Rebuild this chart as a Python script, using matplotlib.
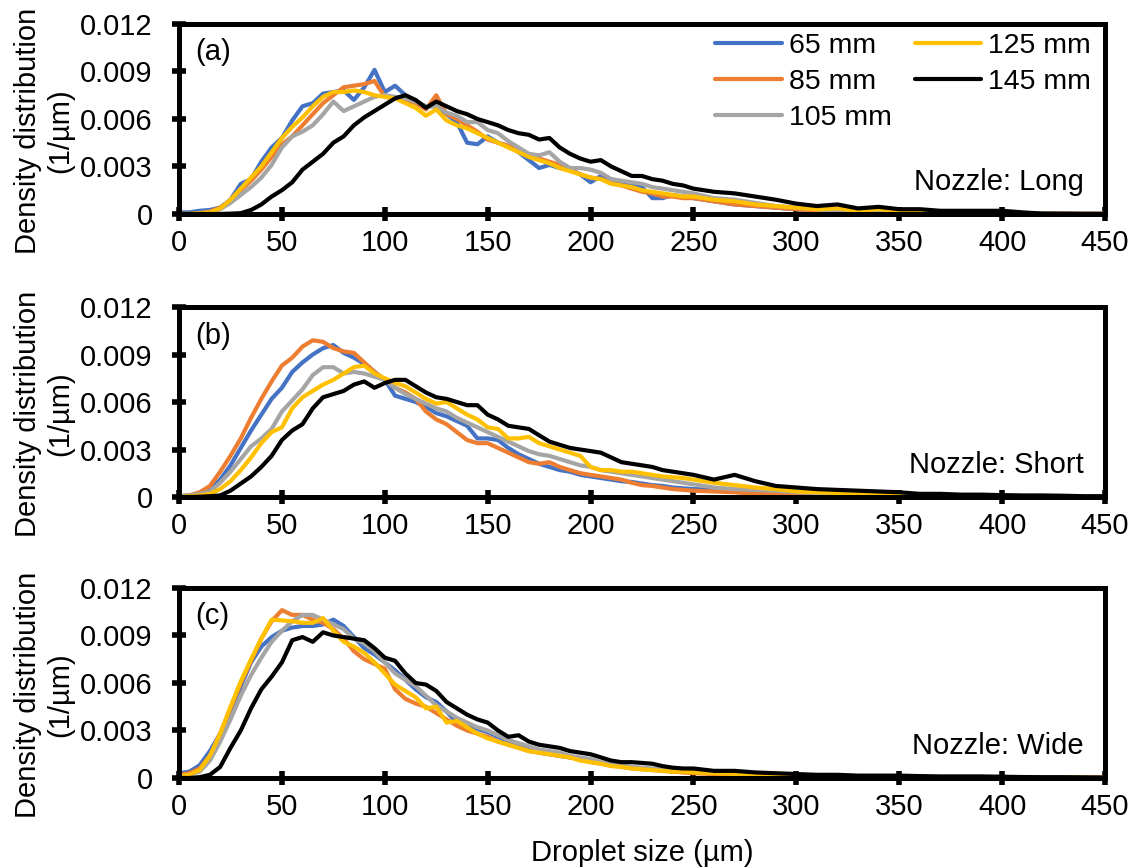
import matplotlib
matplotlib.use("Agg")
import matplotlib.pyplot as plt
import numpy as np

plt.rcParams['font.family'] = ['Liberation Sans', 'DejaVu Sans']

# droplet size grid (um): 5 um steps up to 250, then 10 um steps
size_um = list(range(0, 255, 5)) + list(range(260, 460, 10))

series_labels = ['65 mm', '85 mm', '105 mm', '125 mm', '145 mm']
series_colors = ['#4472C4', '#ED7D31', '#A5A5A5', '#FFC000', '#000000']

yticks = [0, 0.003, 0.006, 0.009, 0.012]
ytick_labels = ['0', '0.003', '0.006', '0.009', '0.012']
xticks = list(range(0, 451, 50))

# density distribution, values in 1e-3 (1/um)
# --- (a) long nozzle ---
long_65 = [0.1, 0.1, 0.2, 0.25, 0.4, 0.9, 1.9, 2.2, 3.3, 4.2,
           4.8, 5.9, 6.8, 7.0, 7.6, 7.7, 7.8, 7.2, 8.0, 9.1,
           7.7, 8.1, 7.5, 7.1, 6.8, 6.8, 6.3, 5.8, 4.5, 4.4,
           4.9, 4.5, 4.3, 3.9, 3.4, 2.9, 3.1, 2.9, 2.8, 2.5,
           2.0, 2.4, 2.2, 1.9, 1.8, 1.7, 1.0, 1.0, 1.2, 1.1,
           1.0,
           0.8, 0.6, 0.5, 0.4, 0.3, 0.2, 0.25, 0.1, 0.1, 0.1,
           0.1, 0.05, 0.05, 0.05, 0.05, 0.05, 0.05, 0.05, 0.03, 0.03]
long_85 = [0, 0, 0.05, 0.15, 0.4, 0.8, 1.5, 2.1, 2.8, 3.6,
           4.4, 4.9, 5.6, 6.3, 7.0, 7.5, 8.0, 8.1, 8.2, 8.4,
           7.4, 7.3, 7.2, 7.0, 6.6, 7.5, 6.3, 6.0, 5.6, 5.2,
           4.7, 4.5, 4.3, 4.1, 3.7, 3.5, 3.3, 3.1, 2.8, 2.5,
           2.3, 2.2, 2.0, 1.8, 1.6, 1.4, 1.3, 1.1, 1.1, 1.0,
           1.0,
           0.8, 0.6, 0.5, 0.4, 0.3, 0.2, 0.15, 0.1, 0.1, 0.1,
           0.05, 0.05, 0.05, 0.05, 0.03, 0.02, 0.02, 0.02, 0.02, 0.02]
long_105 = [0, 0, 0.05, 0.1, 0.3, 0.7, 1.2, 1.7, 2.3, 3.1,
            4.2, 4.9, 5.2, 5.6, 6.3, 7.1, 6.5, 6.8, 7.1, 7.4,
            7.5, 7.4, 7.3, 7.1, 6.8, 6.8, 6.4, 6.2, 5.8, 5.8,
            5.3, 5.1, 4.6, 4.2, 3.8, 3.7, 3.9, 3.3, 2.9, 2.9,
            2.8, 2.6, 2.2, 2.1, 2.0, 1.9, 1.7, 1.6, 1.5, 1.4,
            1.3,
            1.0, 0.9, 0.7, 0.5, 0.4, 0.3, 0.2, 0.15, 0.1, 0.1,
            0.1, 0.05, 0.05, 0.05, 0.03, 0.03, 0.02, 0.01, 0.01, 0.01]
long_125 = [0, 0, 0.05, 0.1, 0.35, 0.9, 1.6, 2.3, 3.0, 3.9,
            4.8, 5.5, 6.1, 6.8, 7.4, 7.7, 7.7, 7.8, 7.7, 7.5,
            7.4, 7.3, 7.0, 6.7, 6.2, 6.6, 5.9, 5.6, 5.4, 5.1,
            4.8, 4.5, 4.2, 3.9, 3.6, 3.4, 3.2, 2.9, 2.7, 2.5,
            2.3, 2.2, 1.9, 1.8, 1.7, 1.5, 1.4, 1.3, 1.2, 1.1,
            1.1,
            0.9, 0.8, 0.6, 0.5, 0.4, 0.3, 0.35, 0.2, 0.3, 0.2,
            0.15, 0.1, 0.1, 0.05, 0.05, 0.02, 0, 0, 0, 0]
long_145 = [0, 0, 0, 0, 0, 0.02, 0.05, 0.25, 0.6, 1.1,
            1.5, 2.0, 2.8, 3.3, 3.8, 4.5, 4.9, 5.6, 6.1, 6.5,
            6.9, 7.3, 7.5, 7.2, 6.7, 7.1, 6.8, 6.5, 6.3, 6.0,
            5.8, 5.6, 5.3, 5.1, 5.0, 4.7, 4.8, 4.2, 3.8, 3.5,
            3.3, 3.4, 3.0, 2.7, 2.4, 2.4, 2.2, 2.1, 1.9, 1.8,
            1.6,
            1.4, 1.3, 1.1, 0.9, 0.65, 0.5, 0.6, 0.35, 0.45, 0.3,
            0.3, 0.2, 0.2, 0.2, 0.2, 0.1, 0.02, 0.01, 0, 0]

# --- (b) short nozzle ---
short_65 = [0.05, 0.1, 0.2, 0.45, 1.1, 2.0, 3.1, 4.2, 5.2, 6.2,
            6.9, 7.9, 8.5, 9.0, 9.4, 9.6, 9.1, 8.8, 8.4, 7.9,
            7.4, 6.4, 6.2, 6.0, 5.7, 5.3, 5.1, 4.8, 4.5, 3.7,
            3.7, 3.6, 3.1, 2.7, 2.4, 2.1, 1.9, 1.7, 1.6, 1.4,
            1.3, 1.2, 1.1, 1.0, 0.95, 0.85, 0.75, 0.7, 0.6, 0.55,
            0.5,
            0.45, 0.4, 0.3, 0.2, 0.15, 0.1, 0.1, 0.08, 0.06, 0.05,
            0.05, 0.04, 0.04, 0.03, 0.03, 0.02, 0.02, 0.02, 0.02, 0.02]
short_85 = [0.05, 0.1, 0.3, 0.7, 1.6, 2.6, 3.7, 5.0, 6.2, 7.3,
            8.3, 8.8, 9.5, 9.9, 9.8, 9.4, 9.2, 9.1, 8.5, 7.9,
            7.4, 6.9, 6.6, 6.2, 5.4, 4.9, 4.6, 4.1, 3.6, 3.4,
            3.4, 3.1, 2.8, 2.5, 2.2, 2.1, 2.2, 1.9, 1.7, 1.5,
            1.4, 1.3, 1.2, 1.1, 0.9, 0.75, 0.7, 0.6, 0.5, 0.45,
            0.4,
            0.35, 0.3, 0.2, 0.2, 0.15, 0.1, 0.1, 0.08, 0.06, 0.05,
            0.05, 0.04, 0.04, 0.03, 0.03, 0.03, 0.02, 0.02, 0.02, 0.02]
short_105 = [0.05, 0.1, 0.2, 0.35, 0.9, 1.6, 2.4, 3.2, 3.7, 4.3,
             5.4, 6.1, 6.8, 7.7, 8.2, 8.2, 7.8, 7.9, 7.8, 7.6,
             7.4, 6.9, 6.5, 6.2, 5.9, 5.6, 5.4, 5.0, 4.7, 4.4,
             4.1, 3.8, 3.5, 3.2, 2.9, 2.7, 2.6, 2.4, 2.2, 2.0,
             1.9, 1.7, 1.6, 1.5, 1.4, 1.3, 1.2, 1.1, 1.0, 0.9,
             0.8,
             0.6, 0.5, 0.45, 0.4, 0.3, 0.25, 0.2, 0.15, 0.1, 0.1,
             0.08, 0.06, 0.05, 0.04, 0.03, 0.03, 0.02, 0.02, 0.02, 0.02]
short_125 = [0, 0.05, 0.1, 0.2, 0.5, 1.0, 1.7, 2.5, 3.4, 4.1,
             4.4, 5.6, 6.3, 6.7, 7.1, 7.4, 7.8, 8.2, 8.3, 7.8,
             7.5, 7.2, 7.0, 6.6, 6.2, 5.9, 6.0, 5.6, 5.2, 4.9,
             4.4, 4.3, 3.7, 3.7, 3.8, 3.4, 3.2, 3.0, 2.8, 2.6,
             1.9, 1.7, 1.7, 1.6, 1.6, 1.5, 1.4, 1.3, 1.25, 1.2,
             1.1,
             0.9, 0.75, 0.6, 0.5, 0.35, 0.3, 0.25, 0.2, 0.2, 0.15,
             0.1, 0.1, 0.1, 0.08, 0.05, 0.04, 0.03, 0.02, 0.02, 0.02]
short_145 = [0, 0, 0.02, 0.05, 0.1, 0.4, 0.85, 1.3, 1.9, 2.6,
             3.6, 4.2, 4.6, 5.6, 6.3, 6.5, 6.7, 7.1, 7.3, 6.9,
             7.2, 7.4, 7.4, 7.0, 6.6, 6.3, 6.2, 6.0, 5.8, 5.8,
             5.2, 4.9, 4.5, 4.4, 4.3, 3.9, 3.5, 3.3, 3.1, 3.0,
             2.9, 2.8, 2.5, 2.2, 2.1, 2.0, 1.9, 1.7, 1.6, 1.5,
             1.4,
             1.1, 1.4, 1.0, 0.7, 0.6, 0.5, 0.45, 0.4, 0.35, 0.3,
             0.2, 0.2, 0.15, 0.15, 0.12, 0.1, 0.1, 0.08, 0.05, 0.05]

# --- (c) wide nozzle ---
wide_65 = [0.3, 0.4, 0.8, 1.7, 2.8, 4.0, 5.8, 7.3, 8.3, 8.9,
           9.3, 9.5, 9.6, 9.6, 9.7, 10.0, 9.6, 8.9, 8.2, 7.8,
           7.3, 6.8, 6.2, 5.6, 5.1, 4.8, 4.2, 3.5, 3.2, 3.1,
           2.9, 2.6, 2.3, 2.0, 1.8, 1.6, 1.5, 1.4, 1.3, 1.2,
           1.1, 0.95, 0.85, 0.75, 0.65, 0.6, 0.55, 0.5, 0.45, 0.4,
           0.35,
           0.3, 0.25, 0.2, 0.15, 0.15, 0.1, 0.1, 0.08, 0.06, 0.05,
           0.05, 0.04, 0.04, 0.03, 0.03, 0.03, 0.02, 0.02, 0.02, 0.02]
wide_85 = [0.2, 0.3, 0.6, 1.4, 2.8, 4.4, 6.0, 7.4, 8.8, 9.9,
           10.6, 10.3, 10.3, 10.0, 9.8, 9.4, 8.8, 8.0, 7.5, 7.2,
           6.9, 5.6, 5.0, 4.7, 4.5, 4.1, 3.7, 3.3, 3.0, 2.8,
           2.6, 2.3, 2.1, 1.9, 1.7, 1.6, 1.5, 1.4, 1.3, 1.2,
           1.0, 0.9, 0.8, 0.7, 0.6, 0.55, 0.5, 0.45, 0.4, 0.35,
           0.3,
           0.25, 0.2, 0.2, 0.15, 0.15, 0.1, 0.1, 0.08, 0.06, 0.05,
           0.05, 0.04, 0.04, 0.03, 0.03, 0.03, 0.02, 0.02, 0.02, 0.02]
wide_105 = [0.1, 0.2, 0.4, 1.1, 2.3, 3.7, 5.2, 6.5, 7.6, 8.6,
            9.3, 9.9, 10.3, 10.3, 10.0, 9.7, 9.4, 8.8, 8.5, 8.0,
            7.3, 6.6, 6.2, 5.8, 5.2, 4.6, 4.2, 3.8, 3.5, 3.2,
            3.0, 2.7, 2.4, 2.2, 2.0, 1.8, 1.7, 1.6, 1.4, 1.3,
            1.2, 1.0, 0.9, 0.8, 0.7, 0.65, 0.6, 0.55, 0.5, 0.45,
            0.4,
            0.35, 0.3, 0.25, 0.2, 0.15, 0.12, 0.1, 0.08, 0.06, 0.05,
            0.05, 0.04, 0.04, 0.03, 0.03, 0.03, 0.02, 0.02, 0.02, 0.02]
wide_125 = [0.1, 0.2, 0.5, 1.4, 2.8, 4.5, 6.1, 7.5, 8.8, 10.0,
            9.95, 9.9, 9.8, 9.8, 10.1, 9.3, 8.6, 8.3, 7.9, 7.3,
            6.6, 5.9, 5.5, 5.1, 4.4, 4.5, 3.5, 3.6, 3.2, 2.8,
            2.5, 2.3, 2.1, 1.9, 1.7, 1.6, 1.5, 1.4, 1.3, 1.1,
            1.0, 0.9, 0.75, 0.7, 0.6, 0.55, 0.5, 0.45, 0.4, 0.4,
            0.35,
            0.3, 0.25, 0.2, 0.2, 0.15, 0.1, 0.1, 0.08, 0.06, 0.05,
            0.05, 0.04, 0.04, 0.03, 0.03, 0.02, 0.02, 0.02, 0.02, 0.02]
wide_145 = [0, 0, 0.05, 0.2, 0.7, 1.9, 3.0, 4.4, 5.6, 6.4,
            7.3, 8.7, 8.9, 8.6, 9.2, 9.0, 8.9, 8.8, 8.7, 8.2,
            7.6, 7.4, 6.6, 6.0, 5.9, 5.5, 4.8, 4.4, 4.0, 3.7,
            3.5, 3.0, 2.6, 2.7, 2.3, 2.1, 2.0, 1.9, 1.7, 1.6,
            1.5, 1.3, 1.1, 1.0, 1.0, 0.95, 0.9, 0.75, 0.65, 0.6,
            0.6,
            0.45, 0.45, 0.35, 0.3, 0.25, 0.2, 0.2, 0.15, 0.15, 0.15,
            0.12, 0.1, 0.1, 0.1, 0.08, 0.06, 0.05, 0.05, 0.04, 0.03]

panels = [
    ('(a)', 'Nozzle: Long', [long_65, long_85, long_105, long_125, long_145]),
    ('(b)', 'Nozzle: Short', [short_65, short_85, short_105, short_125, short_145]),
    ('(c)', 'Nozzle: Wide', [wide_65, wide_85, wide_105, wide_125, wide_145]),
]

fig = plt.figure(figsize=(11.36, 8.68), dpi=100)

ax_left, ax_width, ax_height = 0.1576, 0.8151, 0.2189
ax_bottoms = [0.7535, 0.4274, 0.1037]
fs = 21

for i, (tag, nozzle, curves) in enumerate(panels):
    ax = fig.add_axes([ax_left, ax_bottoms[i], ax_width, ax_height])

    for vals, lab, col in zip(curves, series_labels, series_colors):
        ax.plot(size_um, np.array(vals) * 1e-3, color=col, lw=3.0, label=lab,
                solid_joinstyle='round', solid_capstyle='round')

    ax.set_xlim(0, 450)
    ax.set_ylim(0, 0.012)
    ax.set_xticks(xticks)
    ax.set_yticks(yticks, ytick_labels)

    for sp in ax.spines.values():
        sp.set_linewidth(3.6)
    ax.tick_params(direction='inout', length=10, width=4, labelsize=fs)
    ax.tick_params(axis='x', pad=6)
    ax.tick_params(axis='y', pad=14)

    ax.text(0.017, 0.85, tag, transform=ax.transAxes, fontsize=fs,
            ha='left', va='center')
    ax.text(0.977, 0.17, nozzle, transform=ax.transAxes, fontsize=fs,
            ha='right', va='center')

    # y label sits a little below the axes centre, as in the original
    fig.text(0.0387, ax_bottoms[i] + ax_height / 2 - 0.014,
             'Density distribution\n(1/µm)',
             rotation=90, ha='center', va='center', fontsize=fs,
             linespacing=1.2, multialignment='center')

    if i == 0:
        ax.legend(ncol=2, frameon=False, loc='upper left',
                  bbox_to_anchor=(0.579, 0.955), borderaxespad=0, borderpad=0,
                  handlelength=2.35, handletextpad=0.24, columnspacing=0.8,
                  labelspacing=0.36, fontsize=20.5)

fig.text(0.565, 0.017, 'Droplet size (µm)', ha='center', va='center', fontsize=fs)

fig.savefig('out.png', dpi=100)
